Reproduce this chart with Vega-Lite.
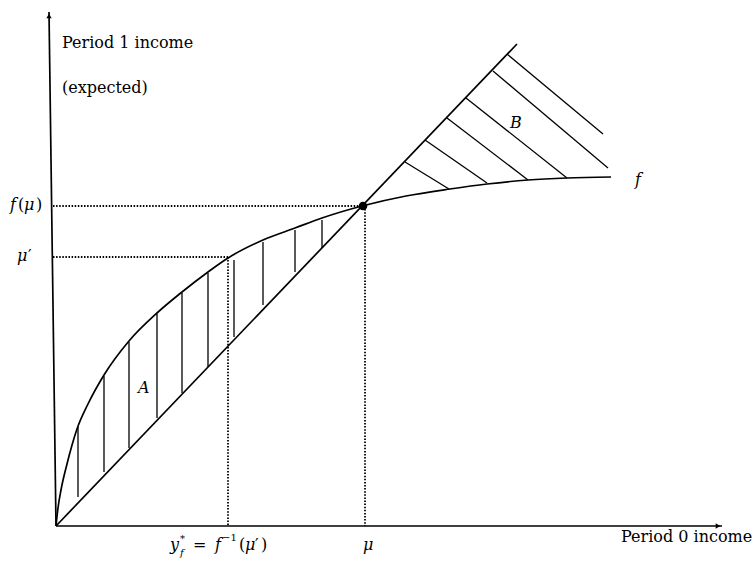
{
  "$schema": "https://vega.github.io/schema/vega-lite/v6.json",
  "width": 755,
  "height": 561,
  "padding": 0,
  "autosize": {"type": "fit", "contains": "padding"},
  "background": "white",
  "config": {"view": {"stroke": null}},
  "datasets": {
    "axes": [
      {"id": "yaxis", "x": 0, "y": 0, "o": 0},
      {"id": "yaxis", "x": -7, "y": 514, "o": 1},
      {"id": "xaxis", "x": 0, "y": 0, "o": 0},
      {"id": "xaxis", "x": 666, "y": 0, "o": 1},
      {"id": "diag", "x": 0, "y": 0, "o": 0},
      {"id": "diag", "x": 461, "y": 482, "o": 1}
    ],
    "curve": [
      {"x": 0, "y": 0}, {"x": 2, "y": 18}, {"x": 5, "y": 36}, {"x": 11, "y": 62},
      {"x": 21, "y": 97}, {"x": 32, "y": 122}, {"x": 48, "y": 151}, {"x": 73, "y": 185},
      {"x": 101, "y": 213}, {"x": 126, "y": 234}, {"x": 152, "y": 254}, {"x": 172, "y": 268},
      {"x": 207, "y": 286}, {"x": 239, "y": 298}, {"x": 266, "y": 308}, {"x": 306, "y": 320},
      {"x": 350, "y": 330}, {"x": 394, "y": 337}, {"x": 431, "y": 342}, {"x": 472, "y": 346},
      {"x": 511, "y": 348}, {"x": 555, "y": 349}
    ],
    "hatch": [
      {"x": 22, "y": 99, "x2": 22, "y2": 29},
      {"x": 48, "y": 150, "x2": 48, "y2": 54},
      {"x": 73, "y": 184, "x2": 73, "y2": 78},
      {"x": 101, "y": 212, "x2": 101, "y2": 108},
      {"x": 126, "y": 233, "x2": 126, "y2": 133},
      {"x": 152, "y": 253, "x2": 152, "y2": 159},
      {"x": 178, "y": 266, "x2": 178, "y2": 189},
      {"x": 207, "y": 284, "x2": 207, "y2": 221},
      {"x": 239, "y": 296, "x2": 239, "y2": 254},
      {"x": 266, "y": 306, "x2": 266, "y2": 278},
      {"x": 349, "y": 364, "x2": 393, "y2": 337},
      {"x": 369, "y": 386, "x2": 431, "y2": 343},
      {"x": 391, "y": 408, "x2": 472, "y2": 346},
      {"x": 410, "y": 428, "x2": 511, "y2": 348},
      {"x": 437, "y": 455, "x2": 552, "y2": 358},
      {"x": 451, "y": 472, "x2": 547, "y2": 392}
    ],
    "dotted": [
      {"x": -3, "y": 320, "x2": 307, "y2": 320},
      {"x": -3, "y": 269, "x2": 172, "y2": 269},
      {"x": 172, "y": 269, "x2": 172, "y2": 0},
      {"x": 309, "y": 320, "x2": 309, "y2": 0}
    ],
    "dot": [{"x": 307, "y": 320}],
    "arrows": [
      {"x": -7, "y": 510, "shape": "triangle-up"},
      {"x": 662, "y": 0, "shape": "triangle-right"}
    ],
    "labels": [
      {"style": "roman", "text": "Period 1 income", "x": 6, "y": 478},
      {"style": "roman", "text": "(expected)", "x": 6, "y": 433},
      {"style": "roman", "text": "Period 0 income", "x": 565, "y": -16},
      {"style": "italic", "text": "f", "x": -46, "y": 316},
      {"style": "roman", "text": "(", "x": -38, "y": 316},
      {"style": "italic", "text": "μ", "x": -32, "y": 316},
      {"style": "roman", "text": ")", "x": -20, "y": 316},
      {"style": "italic", "text": "μ", "x": -39, "y": 265},
      {"style": "roman", "text": "′", "x": -28, "y": 265},
      {"style": "italic", "text": "A", "x": 82, "y": 133},
      {"style": "italic", "text": "B", "x": 454, "y": 398},
      {"style": "italic", "text": "f", "x": 579, "y": 341},
      {"style": "italic", "text": "y", "x": 114, "y": -24},
      {"style": "small", "text": "*", "x": 124, "y": -16},
      {"style": "smallitalic", "text": "f", "x": 124, "y": -30},
      {"style": "roman", "text": "=", "x": 137, "y": -24},
      {"style": "italic", "text": "f", "x": 159, "y": -24},
      {"style": "small", "text": "−1", "x": 166, "y": -15},
      {"style": "roman", "text": "(", "x": 183, "y": -24},
      {"style": "italic", "text": "μ", "x": 189, "y": -24},
      {"style": "roman", "text": "′", "x": 199, "y": -24},
      {"style": "roman", "text": ")", "x": 205, "y": -24},
      {"style": "italic", "text": "μ", "x": 307, "y": -24}
    ]
  },
  "encoding": {
    "x": {"field": "x", "type": "quantitative", "scale": {"domain": [-56, 699], "nice": false, "zero": false}, "axis": null},
    "y": {"field": "y", "type": "quantitative", "scale": {"domain": [-35, 526], "nice": false, "zero": false}, "axis": null}
  },
  "layer": [
    {
      "data": {"name": "dotted"},
      "mark": {"type": "rule", "color": "black", "strokeWidth": 1.8, "strokeDash": [1.5, 1.6]},
      "encoding": {"x2": {"field": "x2"}, "y2": {"field": "y2"}}
    },
    {
      "data": {"name": "hatch"},
      "mark": {"type": "rule", "color": "black", "strokeWidth": 1.3},
      "encoding": {"x2": {"field": "x2"}, "y2": {"field": "y2"}}
    },
    {
      "data": {"name": "axes"},
      "mark": {"type": "line", "color": "black", "strokeWidth": 1.7},
      "encoding": {"detail": {"field": "id"}, "order": {"field": "o"}}
    },
    {
      "data": {"name": "curve"},
      "mark": {"type": "line", "color": "black", "strokeWidth": 1.7, "interpolate": "monotone"},
      "encoding": {}
    },
    {
      "data": {"name": "dot"},
      "mark": {"type": "point", "shape": "circle", "filled": true, "color": "black", "size": 75, "opacity": 1},
      "encoding": {}
    },
    {
      "data": {"name": "arrows"},
      "mark": {"type": "point", "filled": true, "color": "black", "size": 28, "opacity": 1},
      "encoding": {"shape": {"field": "shape", "type": "nominal", "scale": null}}
    },
    {
      "data": {"name": "labels"},
      "transform": [{"filter": "datum.style === 'roman'"}],
      "mark": {"type": "text", "align": "left", "baseline": "alphabetic", "font": "DejaVu Serif", "fontSize": 16, "color": "black"},
      "encoding": {"text": {"field": "text"}}
    },
    {
      "data": {"name": "labels"},
      "transform": [{"filter": "datum.style === 'italic'"}],
      "mark": {"type": "text", "align": "left", "baseline": "alphabetic", "font": "DejaVu Serif", "fontStyle": "italic", "fontSize": 16, "color": "black"},
      "encoding": {"text": {"field": "text"}}
    },
    {
      "data": {"name": "labels"},
      "transform": [{"filter": "datum.style === 'small'"}],
      "mark": {"type": "text", "align": "left", "baseline": "alphabetic", "font": "DejaVu Serif", "fontSize": 10, "color": "black"},
      "encoding": {"text": {"field": "text"}}
    },
    {
      "data": {"name": "labels"},
      "transform": [{"filter": "datum.style === 'smallitalic'"}],
      "mark": {"type": "text", "align": "left", "baseline": "alphabetic", "font": "DejaVu Serif", "fontStyle": "italic", "fontSize": 10, "color": "black"},
      "encoding": {"text": {"field": "text"}}
    }
  ]
}
